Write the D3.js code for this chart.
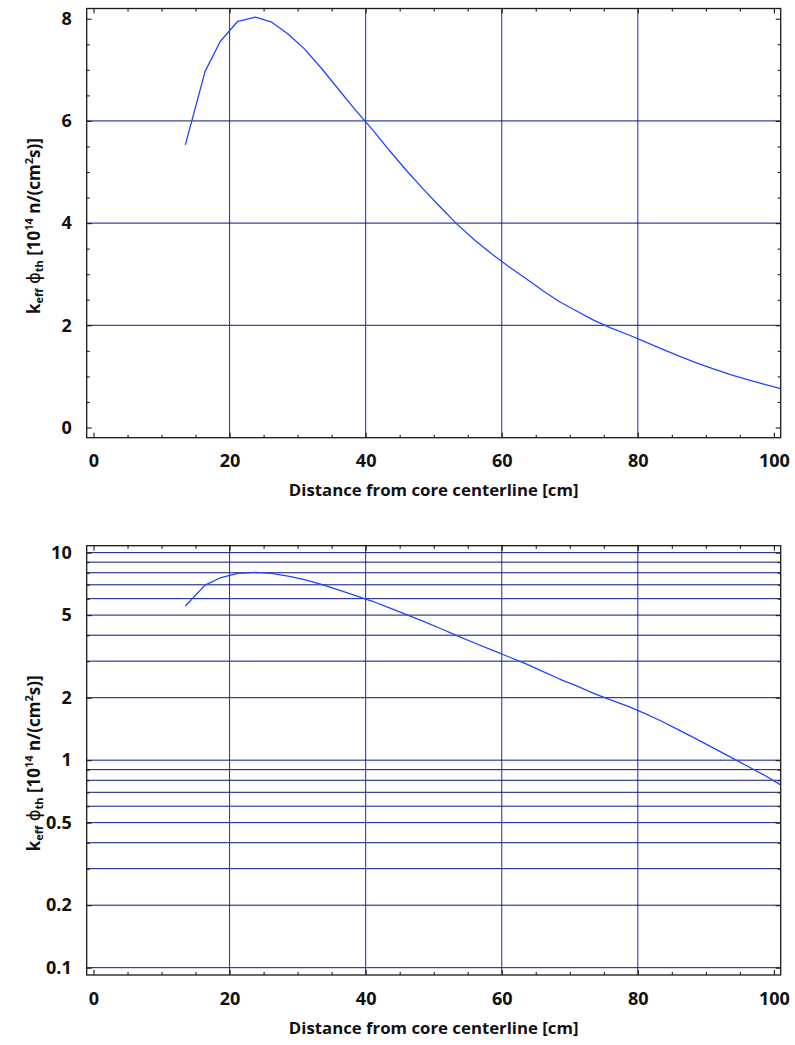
<!DOCTYPE html>
<html>
<head>
<meta charset="utf-8">
<script src="https://cdn.jsdelivr.net/npm/d3@7"></script>
<style>
  html, body { margin: 0; padding: 0; background: #fff; }
  svg { display: block; }
  text { font-family: "Open Sans", "DejaVu Sans", sans-serif; font-weight: 700; fill: #111; }
</style>
</head>
<body>
<svg id="chart" width="795" height="1045"></svg>
<script>
// Thermal flux (k_eff * phi_th) versus distance from the core centerline
const distanceCm = [13.5, 16.4, 18.6, 21.2, 23.8, 26.1, 28.6, 31.0, 33.5, 36.0,
                    38.5, 41.0, 43.5, 46.0, 48.5, 51.0, 53.5, 56.0, 58.5, 61.0,
                    63.5, 66.0, 68.5, 71.0, 73.5, 76.0, 78.5, 81.0, 83.5, 86.0,
                    88.5, 91.0, 93.5, 96.0, 98.5, 101.0];
const fluxValues = [5.53, 6.97, 7.55, 7.95, 8.03, 7.94, 7.70, 7.41, 7.03, 6.62,
                    6.21, 5.83, 5.42, 5.03, 4.66, 4.31, 3.97, 3.67, 3.40, 3.15,
                    2.92, 2.68, 2.46, 2.28, 2.10, 1.95, 1.82, 1.68, 1.54, 1.40,
                    1.27, 1.15, 1.04, 0.94, 0.85, 0.76];

const xMajorTicks = [0, 20, 40, 60, 80, 100];
const xGridValues = [20, 40, 60, 80];
const yLinMajorTicks = [0, 2, 4, 6, 8];
const yLinGridValues = [2, 4, 6];
const yLogLabelTicks = [0.1, 0.2, 0.5, 1, 2, 5, 10];
const yLogGridValues = [0.1, 0.2, 0.3, 0.4, 0.5, 0.6, 0.7, 0.8, 0.9,
                        1, 2, 3, 4, 5, 6, 7, 8, 9, 10];
const xAxisTitle = "Distance from core centerline [cm]";

const points = distanceCm.map((d, i) => ({ x: d, y: fluxValues[i] }));

const svg = d3.select("#chart");
const frameLeft = 86.7, frameRight = 780.7;
const curveColor = "#1f45ff";
const vGridColor = "#1a2cb4";
const hGridColor = "#0a1780";
const frameColor = "#1a1a1a";

const x = d3.scaleLinear().domain([-1, 101]).range([frameLeft, frameRight]);

function minorRange(lo, hi, step) {
  const out = [];
  for (let v = lo; v <= hi + 1e-9; v += step) out.push(+v.toFixed(4));
  return out;
}

function drawPanel(opts) {
  const { top, bottom, y, hGrid, yMajor, yMinor, yFormat, id } = opts;
  const g = svg.append("g").attr("class", id);
  const clipId = id + "-clip";
  svg.append("clipPath").attr("id", clipId)
    .append("rect")
    .attr("x", frameLeft).attr("y", top)
    .attr("width", frameRight - frameLeft).attr("height", bottom - top);

  // grid lines
  const grid = g.append("g").attr("clip-path", `url(#${clipId})`);
  grid.selectAll("line.vgrid").data(xGridValues).join("line")
    .attr("class", "vgrid")
    .attr("x1", d => x(d)).attr("x2", d => x(d))
    .attr("y1", top).attr("y2", bottom)
    .attr("stroke", vGridColor).attr("stroke-width", 1);
  grid.selectAll("line.hgrid").data(hGrid).join("line")
    .attr("class", "hgrid")
    .attr("x1", frameLeft).attr("x2", frameRight)
    .attr("y1", d => y(d)).attr("y2", d => y(d))
    .attr("stroke", hGridColor).attr("stroke-width", 1);

  // flux curve
  grid.append("path")
    .datum(points)
    .attr("fill", "none")
    .attr("stroke", curveColor)
    .attr("stroke-width", 1.3)
    .attr("stroke-linejoin", "round")
    .attr("d", d3.line().x(d => x(d.x)).y(d => y(d.y)));

  // inward ticks on all four sides
  const xMinor = minorRange(0, 100, 5).filter(v => !xMajorTicks.includes(v));
  const axes = [
    { gen: d3.axisBottom(x), at: `translate(0,${bottom})` },
    { gen: d3.axisTop(x), at: `translate(0,${top})` }
  ];
  axes.forEach((a, i) => {
    g.append("g").attr("transform", a.at)
      .call(a.gen.tickValues(xMinor).tickSize(-3).tickFormat(""))
      .call(s => s.select(".domain").remove());
    g.append("g").attr("transform", a.at)
      .call(a.gen.tickValues(xMajorTicks).tickSize(-5).tickPadding(17)
        .tickFormat(i === 0 ? d3.format("d") : ""))
      .call(s => s.select(".domain").remove());
  });
  const yAxes = [
    { gen: d3.axisLeft(y), at: `translate(${frameLeft},0)` },
    { gen: d3.axisRight(y), at: `translate(${frameRight},0)` }
  ];
  yAxes.forEach((a, i) => {
    g.append("g").attr("transform", a.at)
      .call(a.gen.tickValues(yMinor).tickSize(-3).tickFormat(""))
      .call(s => s.select(".domain").remove());
    g.append("g").attr("transform", a.at)
      .call(a.gen.tickValues(yMajor).tickSize(-5).tickPadding(15)
        .tickFormat(i === 0 ? yFormat : ""))
      .call(s => s.select(".domain").remove());
  });
  g.selectAll(".tick line").attr("stroke", frameColor).attr("stroke-width", 1.1);
  g.selectAll(".tick text")
    .attr("font-family", null).attr("font-size", 18).attr("fill", "#111");

  // frame
  g.append("rect")
    .attr("x", frameLeft).attr("y", top)
    .attr("width", frameRight - frameLeft).attr("height", bottom - top)
    .attr("fill", "none").attr("stroke", frameColor).attr("stroke-width", 1.3);

  // axis titles
  g.append("text")
    .attr("x", (frameLeft + frameRight) / 2).attr("y", bottom + 58.5)
    .attr("text-anchor", "middle").attr("font-size", 16.8)
    .text(xAxisTitle);

  const yt = g.append("text")
    .attr("transform", `translate(40,${(top + bottom) / 2 + 3}) rotate(-90)`)
    .attr("text-anchor", "middle").attr("font-size", 17);
  yt.append("tspan").text("k");
  yt.append("tspan").attr("font-size", 11).attr("dy", 3).text("eff");
  yt.append("tspan").attr("dy", -3).text(" ");
  yt.append("tspan").attr("font-weight", 400).attr("font-family", "DejaVu Sans")
    .attr("font-size", 18).text("ϕ");
  yt.append("tspan").attr("font-size", 11).attr("dy", 3).text("th");
  yt.append("tspan").attr("dy", -3).text(" [10");
  yt.append("tspan").attr("font-size", 11).attr("dy", -7).text("14");
  yt.append("tspan").attr("dy", 7).text(" n/(cm");
  yt.append("tspan").attr("font-size", 11).attr("dy", -7).text("2");
  yt.append("tspan").attr("dy", 7).text("s)]");
}

// linear panel
const yLin = d3.scaleLinear().domain([-0.2, 8.2]).range([437.7, 8.5]);
drawPanel({
  id: "linear", top: 8.5, bottom: 437.7, y: yLin,
  hGrid: yLinGridValues,
  yMajor: yLinMajorTicks,
  yMinor: minorRange(0, 8, 0.5).filter(v => !yLinMajorTicks.includes(v)),
  yFormat: d3.format("d")
});

// logarithmic panel
const yLog = d3.scaleLog().domain([0.0922, 10.8]).range([975, 545.7]);
drawPanel({
  id: "log", top: 545.7, bottom: 975, y: yLog,
  hGrid: yLogGridValues,
  yMajor: yLogLabelTicks,
  yMinor: yLogGridValues.filter(v => !yLogLabelTicks.includes(v)),
  yFormat: d => d3.format("~g")(d)
});
</script>
</body>
</html>
